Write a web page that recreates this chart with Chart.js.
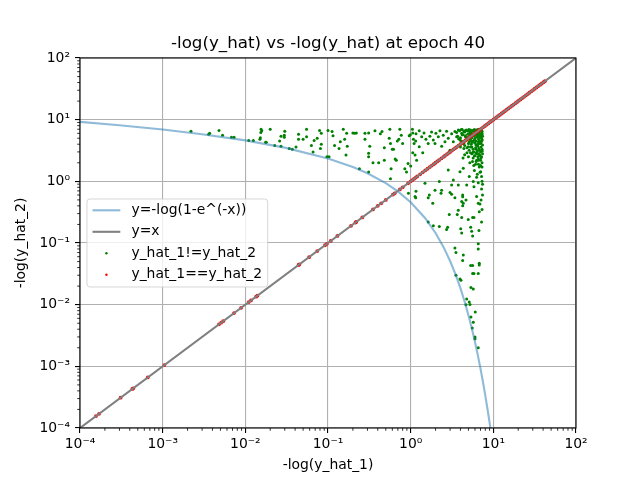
<!DOCTYPE html>
<html>
<head>
<meta charset="utf-8">
<script src="https://cdn.jsdelivr.net/npm/chart.js@4.4.1/dist/chart.umd.min.js"></script>
<style>
  html, body { margin: 0; padding: 0; background: #fff; }
  #wrap { width: 640px; height: 480px; }
</style>
</head>
<body>
<div id="wrap"><canvas id="chart" width="640" height="480"></canvas></div>
<script>
// axis ticks (decades)
var tickVals = [1e-4, 1e-3, 1e-2, 1e-1, 1, 10, 100];
var tickLabels = ['10⁻⁴', '10⁻³', '10⁻²', '10⁻¹', '10⁰', '10¹', '10²'];

// y = -log(1-e^(-x))
var curveX = [1e-4, 3e-4, 1e-3, 3e-3, 0.01, 0.03, 0.1, 0.2, 0.3, 0.5, 0.7, 1, 1.5, 2, 2.5,
              3, 3.5, 4, 4.5, 5, 5.5, 6, 6.5, 7, 7.5, 8, 8.5, 9, 9.5];
var curveY = [9.21, 8.11, 6.908, 5.811, 4.61, 3.52, 2.352, 1.708, 1.35, 0.933, 0.686, 0.459, 0.2525, 0.1454, 0.0857,
              0.0511, 0.0307, 0.0185, 0.01117, 0.00676, 0.0041, 0.00248, 0.001505, 0.000912, 0.000553, 0.000335, 0.000203, 0.000123, 0.0000749];

// y = x
var identX = [1e-4, 100];
var identY = [1e-4, 100];

// y_hat_1 != y_hat_2
var greenX = [
  0.0022,0.0036,0.0037,0.0048,0.0053,0.0068,0.0073,0.011,0.0125,0.0155,
  0.0158,0.0154,0.0152,0.015,0.0176,0.0179,0.020,0.0227,0.026,0.027,
  0.027,0.0296,0.0296,0.030,0.034,0.037,0.041,0.044,0.044,0.050,
  0.055,0.055,0.063,0.066,0.068,0.074,0.079,0.083,0.083,0.081,
  0.097,0.103,0.10,
  0.112,0.115,0.12,0.136,0.141,0.153,0.159,0.168,0.171,0.165,
  0.20,0.21,0.22,0.24,0.28,0.28,0.31,0.31,0.31,0.32,
  0.31,0.35,0.37,0.41,0.43,0.45,0.48,0.48,0.55,0.56,
  0.57,0.58,0.57,0.60,0.62,0.65,0.67,0.69,0.72,0.74,
  0.77,0.80,0.85,0.89,0.93,0.96,0.99,1.0,1.05,1.08,
  1.1,1.15,
  1.06,1.16,1.27,1.36,1.45,1.53,1.06,1.13,1.18,1.27,
  1.40,1.63,1.71,1.79,1.88,1.97,2.02,2.16,2.26,2.37,
  2.48,2.60,2.72,2.85,2.99,3.13,3.28,3.43,3.60,3.77,
  3.95,4.14,4.33,4.54,4.76,4.97,5.22,5.47,5.72,6.00,
  6.16,6.28,6.57,6.57,6.76,6.89,7.03,2.85,3.95,4.33,
  3.28,5.11,5.72,6.28,
  1.49,2.22,3.13,3.77,4.76,5.83,6.57,0.94,1.16,1.13,
  1.15,1.68,1.63,1.85,1.97,2.37,2.33,2.99,3.13,3.43,
  4.26,4.26,4.33,4.26,4.67,4.14,6.28,6.57,6.89,6.76,
  2.93,3.77,3.66,4.14,4.97,5.62,5.83,1.63,1.88,2.22,
  2.72,2.80,4.03,4.14,5.32,5.47,6.70,5.62,6.57,6.57,
  3.43,3.53,4.33,4.26,5.32,5.62,6.76,6.76,5.62,5.83,
  3.95,
  6.57,3.53,4.06,5.36,5.72,4.76,5.11,5.22,4.67,6.04,
  5.36,5.72,5.56,6.00,6.00,6.57,
  5.3,5.6,5.9,6.2,6.5,6.8,7.1,7.3,
  5.4,5.8,6.1,6.4,6.7,7.0,7.3,
  5.2,5.5,6.0,6.3,6.6,6.9,7.2,7.4,
  5.1,5.4,5.7,6.0,6.3,6.6,6.9,7.2,7.4,
  5.3,5.7,6.1,6.4,6.7,7.0,7.3,
  5.5,5.9,6.2,6.5,6.8,7.1,7.4,
  5.6,6.1,6.6,7.0,7.3,
  5.9,6.4,6.9,7.2,
  4.1,4.4,4.7,5.0,4.2,4.6,4.9,4.5,4.8,4.3,
  7.3,7.2,7.4,7.3,7.2,7.4,7.1,
  3.6,3.9,4.2,4.5,4.8,5.05,5.35,5.65,5.95,6.25,6.55,6.85,7.15,
  3.7,4.0,4.3,4.6,4.9,5.2,5.5,5.8,6.1,6.4,6.7,7.0,7.3,
  3.8,4.1,4.4,4.7,5.0,5.3,5.6,5.9,6.2,6.5,6.8,7.1,7.35,
  4.0,4.4,4.8,5.1,5.5,5.8,6.2,6.5,6.8,7.1,7.35,
  4.5,5.0,5.3,5.7,6.0,6.3,6.6,6.9,7.2,
  5.2,5.8,6.2,6.6,7.0,7.3
];
var greenY = [
  6.5,5.8,6.0,6.7,5.6,5.2,5.2,4.6,4.6,7.0,
  6.6,6.2,5.1,4.8,4.3,4.3,7.0,3.8,4.5,5.4,
  3.7,5.6,5.2,6.5,3.4,3.3,3.6,5.8,4.8,4.8,
  7.0,5.3,3.8,3.0,4.6,5.0,6.7,6.0,4.0,3.4,
  2.5,2.5,6.7,
  6.4,5.5,3.8,3.4,4.4,7.0,4.8,6.0,3.7,2.67,
  6.1,6.0,6.1,1.6,6.0,4.8,6.1,2.85,2.5,3.7,
  1.42,2.0,6.6,2.0,5.9,6.4,2.2,3.5,5.0,7.0,
  4.1,1.6,1.1,3.3,3.3,2.3,2.2,4.5,4.8,7.0,
  5.6,4.1,1.6,1.42,1.95,5.5,5.7,1.77,7.0,4.8,
  4.1,4.5,
  6.1,5.9,6.6,5.3,6.1,4.8,2.9,2.67,2.2,3.65,
  2.9,4.1,5.4,6.3,4.68,4.1,6.0,5.3,6.6,3.7,
  5.6,4.4,6.5,5.0,3.2,5.9,4.4,6.4,5.3,6.8,
  4.68,6.0,4.1,6.6,5.2,3.65,6.1,4.4,3.0,5.9,
  3.9,2.2,5.4,2.8,1.7,4.4,1.43,1.53,1.43,1.63,
  1.05,1.2,0.99,1.17,
  0.93,0.99,0.87,0.87,0.87,0.82,0.95,0.64,0.69,0.57,
  0.54,0.60,0.54,0.44,0.72,0.72,0.64,0.66,0.62,0.54,
  0.60,0.56,0.44,0.40,0.50,0.47,0.57,0.44,0.43,0.32,
  0.29,0.34,0.29,0.26,0.24,0.26,0.26,0.22,0.19,0.185,
  0.165,0.18,0.17,0.145,0.18,0.155,0.16,0.13,0.097,0.08,
  0.083,0.07,0.064,0.052,0.043,0.043,0.047,0.044,0.032,0.032,
  0.026,
  0.032,0.03,0.025,0.019,0.018,0.0123,0.011,0.0101,0.01,0.0076,
  0.0063,0.0052,0.0042,0.003,0.0028,0.002,
  6.8,6.5,6.9,6.6,6.9,6.7,6.8,6.5,
  6.0,5.8,6.2,5.9,6.1,5.8,6.0,
  5.2,5.4,5.0,5.3,4.9,5.2,5.0,5.4,
  4.4,4.0,4.5,4.2,3.9,4.4,4.1,4.5,3.9,
  3.6,3.3,3.5,3.1,3.4,3.0,3.3,
  2.8,2.6,2.9,2.5,2.7,2.4,2.8,
  2.1,1.9,2.2,1.8,2.0,
  1.5,1.3,1.4,1.2,
  6.9,6.4,6.8,6.5,5.7,5.5,4.9,3.8,2.9,2.4,
  1.0,0.75,0.6,0.35,0.22,0.9,0.5,
  6.2,6.6,6.9,6.3,6.6,6.9,6.3,6.7,6.4,6.8,6.3,6.9,6.4,
  5.4,5.1,5.7,5.3,5.8,5.6,5.1,5.5,5.7,5.4,5.6,5.3,5.7,
  4.9,4.5,4.2,4.7,4.1,4.7,4.3,4.7,4.5,4.0,4.6,4.2,4.7,
  3.6,3.4,3.5,3.2,3.6,3.0,3.3,3.7,3.2,3.6,3.1,
  2.7,2.5,2.9,2.4,2.6,2.8,2.3,2.6,2.5,
  2.0,1.8,2.1,1.9,2.2,1.7
];

// y_hat_1 == y_hat_2 (both axes equal)
var matchVals = [
  1.56e-4,1.7e-4,3.1e-4,4.3e-4,4.4e-4,6.6e-4,1.05e-3,4.8e-3,5.1e-3,5.4e-3,
  7.3e-3,8.9e-3,0.011,0.0117,0.0135,0.014,0.044,0.045,0.059,0.074,
  0.092,0.097,0.108,0.13,0.19,0.215,0.22,0.26,0.35,0.40,
  0.44,0.5,0.61,0.64,0.74,0.80,0.93,
  1.0,1.05,1.1,1.15,1.2,1.3,1.4,1.5,1.6,1.7,1.8,1.9,2.0,2.1,2.2,2.35,2.5,2.6,2.75,2.9,
  3.0,3.15,3.3,3.45,3.6,3.8,4.0,4.2,4.4,4.6,4.8,5.0,5.3,5.6,5.9,6.2,6.5,6.8,7.1,7.5,
  7.9,8.3,8.7,9.1,9.5,10,10.5,11,11.5,12,12.6,13.2,13.8,14.5,15.2,16,16.8,17.6,18.5,19.4,
  20.3,21.3,22.4,23.5,24.7,26,27.3,28.7,30.2,31.7,33.3,35,36.8,38.6,40.5,42
];

var titleText = '-log(y_hat) vs -log(y_hat) at epoch 40';
var FONT = "'DejaVu Sans', sans-serif";

function pts(xs, ys) {
  return xs.map(function (x, i) { return { x: x, y: ys[i] }; });
}

// title, frame, minor ticks and the legend box in the middle-left of the axes
var decor = {
  id: 'decor',
  afterDatasetsDraw: function (chart) {
    var c = chart.ctx, a = chart.chartArea;
    var xs = chart.scales.x, ys = chart.scales.y;
    c.save();
    c.strokeStyle = '#000';
    c.lineWidth = 0.8;
    for (var i = 0; i < tickVals.length - 1; i++) {
      for (var m = 2; m <= 9; m++) {
        var px = xs.getPixelForValue(tickVals[i] * m);
        c.beginPath(); c.moveTo(px, a.bottom); c.lineTo(px, a.bottom + 2.8); c.stroke();
        var py = ys.getPixelForValue(tickVals[i] * m);
        c.beginPath(); c.moveTo(a.left, py); c.lineTo(a.left - 2.8, py); c.stroke();
      }
    }
    c.lineWidth = 1.1;
    c.strokeRect(a.left, a.top, a.right - a.left, a.bottom - a.top);
    c.fillStyle = '#000';
    c.font = '16.7px ' + FONT;
    c.textAlign = 'center';
    c.textBaseline = 'middle';
    c.fillText(titleText, (a.left + a.right) / 2, a.top - 14);
    c.restore();
  },
  afterDraw: function (chart) {
    var c = chart.ctx, a = chart.chartArea;
    var fs = 13.9, sets = chart.data.datasets;
    c.save();
    c.font = fs + 'px ' + FONT;
    var maxW = 0;
    sets.forEach(function (d) { maxW = Math.max(maxW, c.measureText(d.label).width); });
    var pad = 0.4 * fs, hl = 2 * fs, gap = 0.8 * fs, row = 21.5;
    var w = pad + hl + gap + maxW + pad;
    var h = sets.length * row + 2;
    var x0 = a.left + 0.5 * fs;
    var y0 = (a.top + a.bottom) / 2 - h / 2;
    c.beginPath();
    c.roundRect(x0, y0, w, h, 3);
    c.fillStyle = 'rgba(255,255,255,0.8)';
    c.fill();
    c.strokeStyle = 'rgba(204,204,204,0.8)';
    c.lineWidth = 1;
    c.stroke();
    sets.forEach(function (d, i) {
      var cy = y0 + 11.3 + i * row;
      var hx = x0 + pad;
      if (d.showLine) {
        c.strokeStyle = d.borderColor;
        c.lineWidth = d.borderWidth;
        c.beginPath(); c.moveTo(hx, cy); c.lineTo(hx + hl, cy); c.stroke();
      } else {
        c.fillStyle = d.backgroundColor;
        c.beginPath(); c.arc(hx + hl / 2, cy, 1.2, 0, Math.PI * 2); c.fill();
      }
      c.fillStyle = '#000';
      c.textAlign = 'left';
      c.textBaseline = 'middle';
      c.fillText(d.label, hx + hl + gap, cy);
    });
    c.restore();
  }
};

function axis(pos, label, fit) {
  return {
    type: 'logarithmic',
    position: pos,
    min: 1e-4,
    max: 100,
    afterBuildTicks: function (s) { s.ticks = tickVals.map(function (v) { return { value: v }; }); },
    afterFit: fit,
    border: { display: false },
    grid: { color: '#b0b0b0', lineWidth: 1.1, tickColor: '#000', tickLength: 5, tickWidth: 1.1 },
    ticks: {
      autoSkip: false, maxRotation: 0, padding: pos === 'left' ? 5 : 3,
      color: '#000', font: { family: FONT, size: 13.9 },
      callback: function (v, i) { return tickLabels[i]; }
    },
    title: {
      display: true, text: label, color: '#000',
      font: { family: FONT, size: 13.9 },
      padding: pos === 'left' ? { top: 13, bottom: 0 } : { top: 0, bottom: 6 }
    }
  };
}

var chart = new Chart(document.getElementById('chart').getContext('2d'), {
  type: 'scatter',
  data: {
    datasets: [{
      label: 'y=-log(1-e^(-x))',
      data: pts(curveX, curveY),
      showLine: true,
      borderColor: 'rgba(31,119,180,0.5)',
      borderWidth: 2.1,
      pointRadius: 0,
      order: 1
    }, {
      label: 'y=x',
      data: pts(identX, identY),
      showLine: true,
      borderColor: '#808080',
      borderWidth: 2.1,
      pointRadius: 0,
      order: 0
    }, {
      label: 'y_hat_1!=y_hat_2',
      data: pts(greenX, greenY),
      backgroundColor: '#008000',
      borderWidth: 0,
      pointRadius: 1.5,
      order: 3
    }, {
      label: 'y_hat_1==y_hat_2',
      data: pts(matchVals, matchVals),
      backgroundColor: '#ff0000',
      borderWidth: 0,
      pointRadius: 1.9,
      order: 2
    }]
  },
  options: {
    responsive: false,
    animation: false,
    layout: { padding: { top: 58, right: 64, left: 0, bottom: 0 } },
    plugins: { legend: { display: false }, tooltip: { enabled: false }, title: { display: false } },
    scales: {
      x: axis('bottom', '-log(y_hat_1)', function (s) { s.height = 52; }),
      y: axis('left', '-log(y_hat_2)', function (s) { s.width = 80; })
    }
  },
  plugins: [decor]
});
</script>
</body>
</html>
